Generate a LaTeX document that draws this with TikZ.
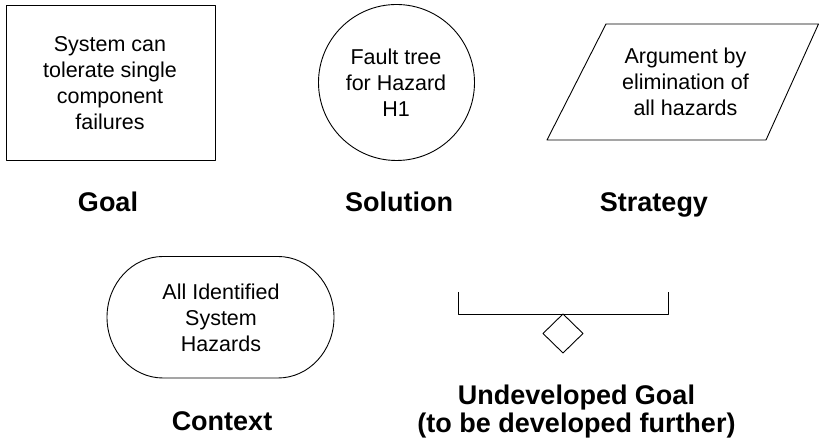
\documentclass[tikz,border=0pt]{standalone}
\usepackage{fontspec}
\setmainfont{Liberation Sans}
\begin{document}
\begin{tikzpicture}[x=1pt,y=1pt,
  shapeline/.style={draw=black,line width=0.9pt,line join=round},
  bodytext/.style={align=center,inner sep=0pt,font=\fontsize{21.5}{26}\selectfont},
  caption/.style={align=center,inner sep=0pt,font=\fontsize{27}{28}\selectfont\bfseries}]
\useasboundingbox (0,0) rectangle (820,443);

% Goal: plain rectangle
\draw[shapeline] (6,438) rectangle (215,283);
\node[bodytext] (goaltext) at (110,360) {System can\\tolerate single\\component\\failures};
\node[caption,anchor=base] (goallabel) at (108,231.3) {Goal};

% Solution: circle
\node[shapeline,circle,minimum size=156pt,inner sep=0pt] (solution) at (396.5,360.5) {};
\node[bodytext] (soltext) at (396,360.5) {Fault tree\\for Hazard\\H1};
\node[caption,anchor=base] (sollabel) at (399,231.3) {Solution};

% Strategy: parallelogram
\draw[shapeline] (606,419) -- (818.5,419) -- (766,303) -- (547,303) -- cycle;
\node[bodytext] (strattext) at (685.5,361) {Argument by\\elimination of\\all hazards};
\node[caption,anchor=base] (stratlabel) at (654,231.3) {Strategy};

% Context: rounded box with elliptic ends
\draw[shapeline] (163,186.5) -- (278,186.5)
  arc[start angle=90,end angle=-90,x radius=56,y radius=60.75]
  -- (163,65)
  arc[start angle=270,end angle=90,x radius=56,y radius=60.75];
\node[bodytext] (ctxtext) at (221,125) {All Identified\\System\\Hazards};
\node[caption,anchor=base] (ctxlabel) at (222,12.3) {Context};

% Undeveloped goal: bracket with diamond below
\coordinate (bl) at (458,151);
\coordinate (br) at (668,151);
\coordinate (diatop) at (563,129);
\draw[shapeline] (bl) -- (458,129) -- (668,129) -- (br);
\draw[shapeline] (diatop) -- (583,109.5) -- (563,90) -- (543,109.5) -- cycle;
\node[caption] (undevlabel) at (576.5,31) {Undeveloped Goal\\(to be developed further)};
\end{tikzpicture}
\end{document}
